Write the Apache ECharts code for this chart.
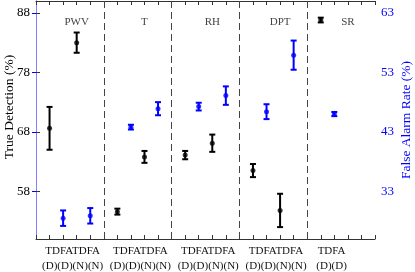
<!DOCTYPE html>
<html><head><meta charset="utf-8">
<script src="https://cdn.jsdelivr.net/npm/echarts@6/dist/echarts.min.js"></script>
<style>html,body{margin:0;padding:0;background:#fff}#c{width:415px;height:272px}</style>
</head><body><div id="c"></div>
<script>
// ---- data ----
const sections = ['PWV', 'T', 'RH', 'DPT', 'SR'];
const tdDay      = [68.6, 54.6, 64.1, 61.5, 86.8];
const tdDayErr   = [3.6, 0.5, 0.7, 1.1, 0.4];
const faDay      = [28.5, 43.8, 47.25, 46.4, 46.0];
const faDayErr   = [1.3, 0.4, 0.65, 1.25, 0.35];
const tdNight    = [83.0, 63.8, 66.1, 54.8, null];
const tdNightErr = [1.7, 1.0, 1.45, 2.8, null];
const faNight    = [28.9, 46.9, 49.1, 55.9, null];
const faNightErr = [1.3, 1.1, 1.55, 2.45, null];
const groupLabels = ['TDFATDFA\n(D)(D)(N)(N)', 'TDFATDFA\n(D)(D)(N)(N)', 'TDFATDFA\n(D)(D)(N)(N)',
                     'TDFATDFA\n(D)(D)(N)(N)', 'TDFA\n(D)(D)'];
const leftTicks  = [58, 68, 78, 88];
const rightTicks = [33, 43, 53, 63];

// ---- build ----
const FONT = 'Liberation Serif';
const BLACK = '#000000', BLUE = '#0000ff';
const xTickVals = [];
for (let i = 0; i <= 25; i++) xTickVals.push(i);
const labelPos = sections.map((s, i) => (tdNight[i] == null) ? 5 * i + 1.8 : 5 * i + 2.7);
const labelMap = {};
labelPos.forEach((p, i) => { labelMap[p.toFixed(2)] = groupLabels[i]; });

function pts(vals, errs, offset) {
  const p = [], e = [];
  vals.forEach((v, i) => {
    if (v == null) return;
    const x = 5 * i + offset;
    p.push([x, v]);
    e.push([x, v - errs[i], v + errs[i]]);
  });
  return { p, e };
}
const tdD = pts(tdDay, tdDayErr, 1), faD = pts(faDay, faDayErr, 2);
const tdN = pts(tdNight, tdNightErr, 3), faN = pts(faNight, faNightErr, 4);

function errSeries(data, yIdx, color) {
  return {
    type: 'custom', xAxisIndex: 0, yAxisIndex: yIdx, data: data, silent: true, z: 3,
    renderItem: function (params, api) {
      const x = api.value(0);
      const a = api.coord([x, api.value(2)]), b = api.coord([x, api.value(1)]);
      const w = 3, st = { stroke: color, lineWidth: 2 };
      return { type: 'group', children: [
        { type: 'line', shape: { x1: a[0], y1: a[1], x2: b[0], y2: b[1] }, style: st },
        { type: 'line', shape: { x1: a[0] - w, y1: a[1], x2: a[0] + w, y2: a[1] }, style: st },
        { type: 'line', shape: { x1: b[0] - w, y1: b[1], x2: b[0] + w, y2: b[1] }, style: st }
      ]};
    }
  };
}
function ptSeries(data, yIdx, color) {
  return { type: 'scatter', xAxisIndex: 0, yAxisIndex: yIdx, data: data, symbol: 'circle',
    symbolSize: 5, itemStyle: { color: color }, z: 4, silent: true };
}

const sectionData = sections.map((s, i) => [5 * i + 3, 90, s]);

const chart = echarts.init(document.getElementById('c'));
chart.setOption({
  animation: false,
  grid: { left: 36, right: 40, top: 1, bottom: 33, show: false, containLabel: false, outerBoundsMode: 'none' },
  xAxis: [{
    type: 'value', min: 0, max: 25, interval: 1, position: 'bottom',
    axisLine: { show: true, lineStyle: { color: '#333', width: 1 } },
    axisTick: { show: true, inside: true, length: 4, customValues: xTickVals, lineStyle: { color: '#333' } },
    axisLabel: { show: true, margin: 5, customValues: labelPos, color: '#111', fontFamily: FONT, fontSize: 11, lineHeight: 15,
      formatter: v => labelMap[Number(v).toFixed(2)] || '' },
    splitLine: { show: false }
  }, {
    type: 'value', min: 0, max: 25, interval: 1, position: 'top',
    axisLine: { show: true, lineStyle: { color: '#333', width: 1 } },
    axisTick: { show: true, inside: true, length: 4, lineStyle: { color: '#333' } },
    axisLabel: { show: false }, splitLine: { show: false }
  }],
  yAxis: [{
    type: 'value', min: 50, max: 90, position: 'left',
    name: 'True Detection (%)', nameLocation: 'middle', nameGap: 20, nameMoveOverlap: false,
    nameTextStyle: { fontFamily: FONT, fontSize: 13.5, color: '#000', padding: [0, 0, 0, 26] },
    axisLine: { show: true, lineStyle: { color: '#333' } },
    axisTick: { show: true, inside: true, length: 4, customValues: leftTicks, lineStyle: { color: '#333' } },
    axisLabel: { customValues: leftTicks, margin: 6, fontFamily: FONT, fontSize: 13, color: '#000' },
    splitLine: { show: false }
  }, {
    type: 'value', min: 25, max: 65, position: 'right',
    name: 'False Alarm Rate (%)', nameLocation: 'middle', nameGap: 24, nameRotate: 90, nameMoveOverlap: false,
    nameTextStyle: { fontFamily: FONT, fontSize: 13.5, color: BLUE },
    axisLine: { show: true, lineStyle: { color: '#8080ff' } },
    axisTick: { show: true, inside: true, length: 4, customValues: rightTicks, lineStyle: { color: BLUE } },
    axisLabel: { customValues: rightTicks, margin: 6, fontFamily: FONT, fontSize: 13, color: BLUE },
    splitLine: { show: false }
  }],
  series: [
    {
      type: 'custom', xAxisIndex: 0, yAxisIndex: 0, data: sectionData, silent: true,
      renderItem: function (params, api) {
        const p = api.coord([api.value(0), api.value(1)]);
        return { type: 'text', x: p[0], y: p[1] + 21,
          style: { text: sections[params.dataIndex], fontFamily: FONT, fontSize: 11, fill: '#444',
            align: 'center', verticalAlign: 'middle' } };
      },
      markLine: { silent: true, symbol: ['none', 'none'], label: { show: false },
        lineStyle: { type: [7, 4], color: '#444', width: 1 },
        data: [{ xAxis: 5 }, { xAxis: 10 }, { xAxis: 15 }, { xAxis: 20 }] }
    },
    errSeries(tdD.e, 0, BLACK), ptSeries(tdD.p, 0, BLACK),
    errSeries(tdN.e, 0, BLACK), ptSeries(tdN.p, 0, BLACK),
    errSeries(faD.e, 1, BLUE), ptSeries(faD.p, 1, BLUE),
    errSeries(faN.e, 1, BLUE), ptSeries(faN.p, 1, BLUE)
  ]
});
</script></body></html>
